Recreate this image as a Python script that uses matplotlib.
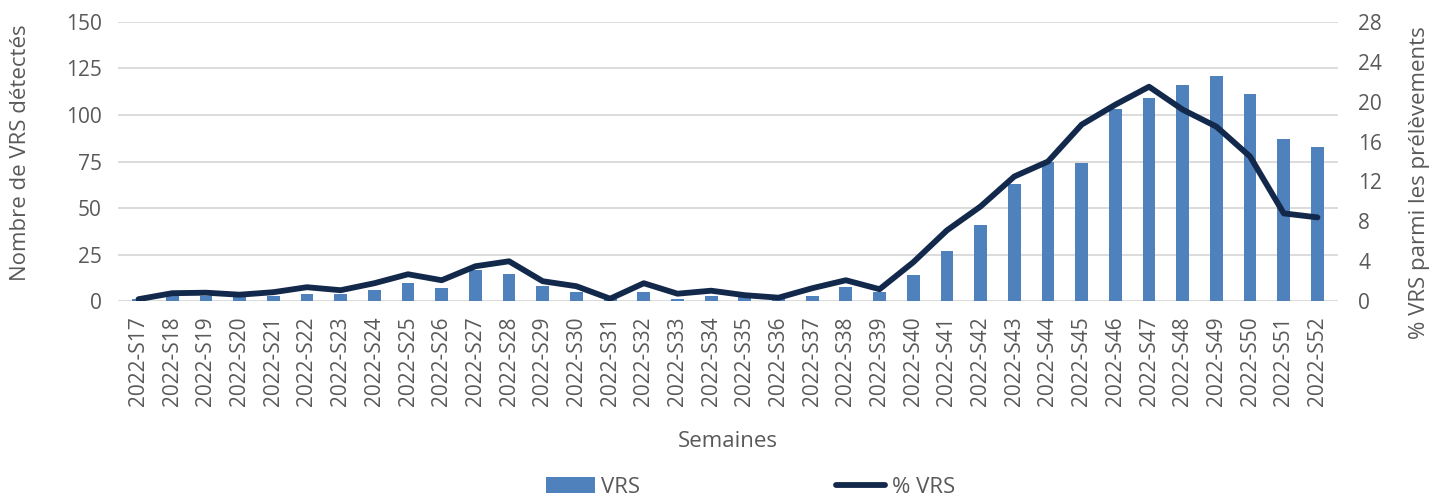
import matplotlib
matplotlib.use("Agg")
import matplotlib.pyplot as plt
import numpy as np

# données
semaines = ["2022-S%d" % s for s in range(17, 53)]
vrs = [1, 3, 3, 2, 3, 4, 4, 6, 10, 7, 17, 14.5, 8, 5, 1, 5, 1, 3, 2, 1,
       3, 7.5, 5, 14, 27, 41, 63, 75, 74, 103, 109, 116, 121, 111, 87, 83]
pct_vrs = [0.2, 0.8, 0.85, 0.65, 0.9, 1.4, 1.1, 1.8, 2.7, 2.1, 3.5, 4.0,
           2.0, 1.5, 0.25, 1.8, 0.75, 1.05, 0.6, 0.35, 1.3, 2.1, 1.2, 3.9,
           7.1, 9.5, 12.5, 14.0, 17.7, 19.7, 21.5, 19.2, 17.5, 14.5, 8.8, 8.4]

plt.rcParams['font.family'] = ['Open Sans', 'DejaVu Sans']
gris = '#595959'
bleu = '#4F81BD'
marine = '#13294B'

fig = plt.figure(figsize=(14.43, 4.97), dpi=100)
ax = fig.add_axes([0.082, 0.394, 0.845, 0.562])
x = np.arange(len(semaines))

barres = ax.bar(x, vrs, width=0.38, color=bleu, zorder=2, label='VRS')
ax.set_ylim(0, 150)
ax.set_yticks(range(0, 151, 25))
ax.set_xlim(-0.6, len(semaines) - 0.4)
ax.set_xticks(x)
ax.set_xticklabels(semaines, rotation=90)
ax.grid(True, axis='y', color='#D9D9D9', linewidth=1.3, zorder=0)
ax.set_axisbelow(True)
for s in ax.spines.values():
    s.set_visible(False)
ax.tick_params(axis='y', length=0, labelsize=15, colors=gris, pad=12)
ax.tick_params(axis='x', length=0, labelsize=15, colors=gris, pad=11)
ax.set_xlabel('Semaines', fontsize=16, color=gris, labelpad=18)

ax2 = ax.twinx()
ligne, = ax2.plot(x, pct_vrs, color=marine, linewidth=4.2, zorder=3,
                  solid_capstyle='round', label='% VRS')
ax2.set_ylim(0, 28)
ax2.set_yticks(range(0, 29, 4))
for s in ax2.spines.values():
    s.set_visible(False)
ax2.tick_params(length=0, labelsize=15, colors=gris, pad=15)

# titres des axes placés comme dans l'original
fig.text(0.014, 0.692, 'Nombre de VRS détectés', rotation=90, fontsize=16,
         color=gris, ha='center', va='center')
fig.text(0.984, 0.632, '% VRS parmi les prélèvements', rotation=90,
         fontsize=16, color=gris, ha='center', va='center')

fig.legend([barres, ligne], ['VRS', '% VRS'], loc='center',
           bbox_to_anchor=(0.52, 0.02), ncol=2, frameon=False,
           fontsize=16, labelcolor=gris, handlelength=2.2,
           columnspacing=8.8, handletextpad=0.3)

fig.savefig('out.png', dpi=100)
